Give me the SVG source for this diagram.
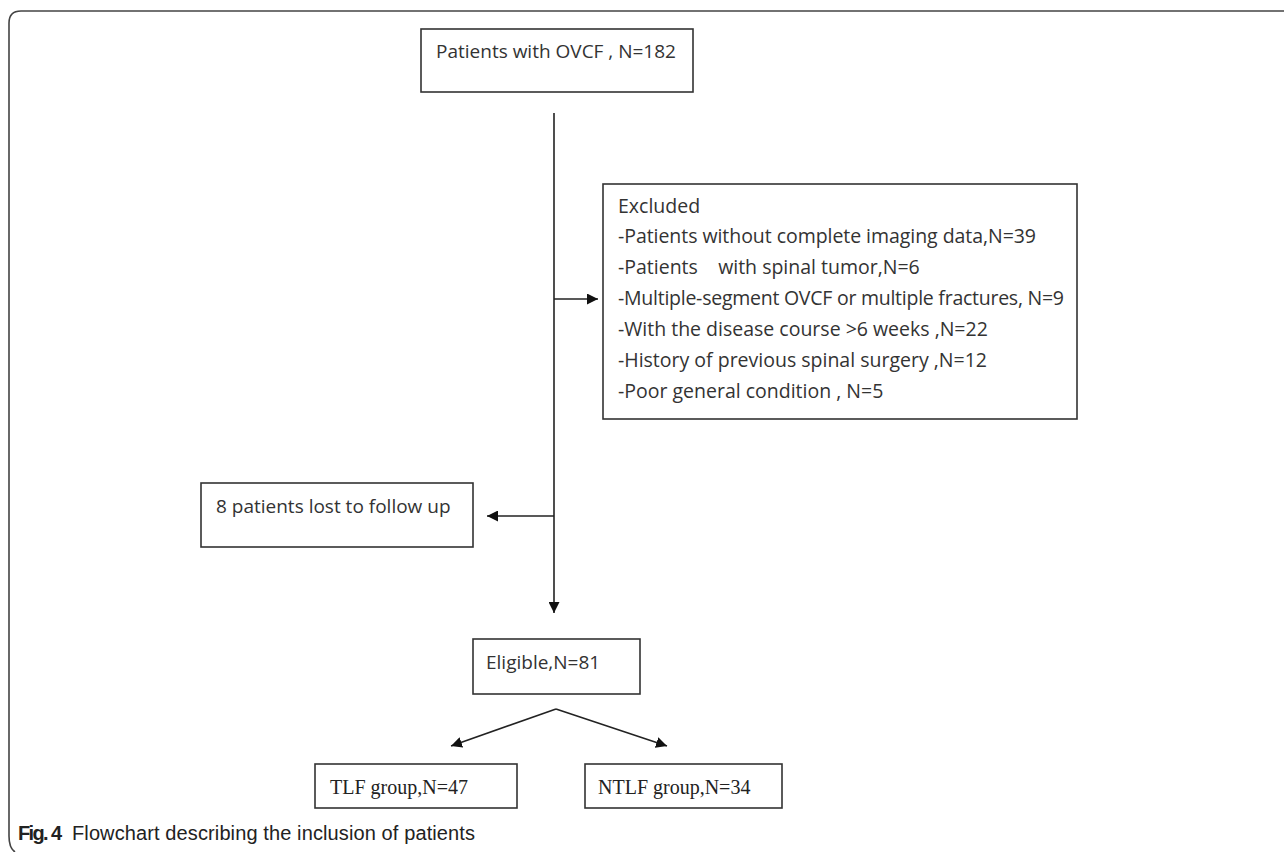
<svg xmlns="http://www.w3.org/2000/svg" width="1284" height="852" viewBox="0 0 1284 852">
<defs>
<style>
.box{fill:#fff;stroke:#333;stroke-width:1.6}
.t{font-family:"Open Sans","Noto Sans","Liberation Sans",sans-serif;font-size:19.5px;fill:#333}
.t19{font-family:"Open Sans","Noto Sans","Liberation Sans",sans-serif;font-size:19px;fill:#333}
.s{font-family:"Liberation Serif","Times New Roman",serif;font-size:20px;fill:#222}
.ln{fill:none;stroke:#222;stroke-width:1.6}
.cap{font-family:"Liberation Sans Narrow","Liberation Sans",sans-serif;font-size:20px;fill:#222}
</style>
<marker id="ah" viewBox="0 0 10 10" refX="10" refY="5" markerWidth="11" markerHeight="11" markerUnits="userSpaceOnUse" orient="auto">
<path d="M0,0 L10,5 L0,10 Z" fill="#111"/>
</marker>
</defs>
<rect width="1284" height="852" fill="#fff"/>
<path d="M1284,11 H21 Q9,11 9,23 V836 Q9,848 15,852" fill="none" stroke="#444" stroke-width="1.6"/>

<g id="connectors">
<line class="ln" x1="554" y1="113" x2="554" y2="613" marker-end="url(#ah)"/>
<line class="ln" x1="554" y1="299" x2="598" y2="299" marker-end="url(#ah)"/>
<line class="ln" x1="554" y1="516" x2="487" y2="516" marker-end="url(#ah)"/>
<line class="ln" x1="556" y1="709" x2="451" y2="746" marker-end="url(#ah)"/>
<line class="ln" x1="556" y1="709" x2="667" y2="746" marker-end="url(#ah)"/>
</g>

<g id="node-start">
<rect class="box" x="421" y="29" width="272" height="63"/>
<text class="t19" x="436" y="58">Patients with OVCF , N=182</text>
</g>

<g id="node-excluded">
<rect class="box" x="603" y="184" width="474" height="235"/>
<text class="t" x="618" y="213">Excluded</text>
<text class="t" x="618" y="243" textLength="418" lengthAdjust="spacing">-Patients without complete imaging data,N=39</text>
<text class="t" x="618" y="274" xml:space="preserve">-Patients    with spinal tumor,N=6</text>
<text class="t" x="618" y="305" textLength="446" lengthAdjust="spacing">-Multiple-segment OVCF or multiple fractures, N=9</text>
<text class="t" x="618" y="336">-With the disease course &gt;6 weeks ,N=22</text>
<text class="t" x="618" y="367">-History of previous spinal surgery ,N=12</text>
<text class="t" x="618" y="398">-Poor general condition , N=5</text>
</g>

<g id="node-lost">
<rect class="box" x="201" y="483" width="272" height="64"/>
<text class="t19" x="216" y="513">8 patients lost to follow up</text>
</g>

<g id="node-eligible">
<rect class="box" x="473" y="639" width="167" height="55"/>
<text class="t19" x="486" y="669">Eligible,N=81</text>
</g>

<g id="node-tlf">
<rect class="box" x="315" y="764" width="202" height="44"/>
<text class="s" x="330" y="794">TLF group,N=47</text>
</g>

<g id="node-ntlf">
<rect class="box" x="585" y="764" width="197" height="44"/>
<text class="s" x="598" y="794">NTLF group,N=34</text>
</g>

<text class="cap" x="18" y="840"><tspan font-weight="bold" textLength="44">Fig. 4</tspan><tspan x="72" textLength="403">Flowchart describing the inclusion of patients</tspan></text>
</svg>
